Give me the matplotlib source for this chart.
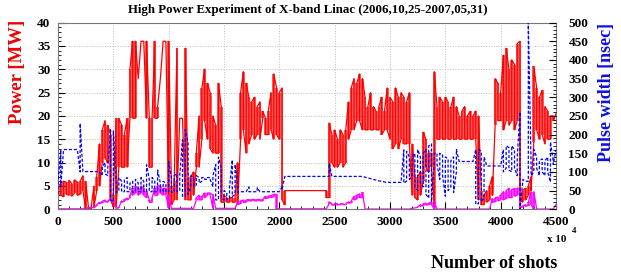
import numpy as np
import matplotlib
matplotlib.use("Agg")
import matplotlib.pyplot as plt
from matplotlib.ticker import MultipleLocator

plt.rcParams['font.family'] = ['Liberation Serif', 'DejaVu Serif']
plt.rcParams['font.weight'] = 'bold'

# number of shots (x 10^4), one sample every 25
shots = np.arange(0, 4501, 25)

# power [MW], lower and upper edge of the trace in each sample
red_lo = [1, 3, 2.7, 3.2, 3, 2.8, 3.5, 3, 3.2, 4,
          0, 0, 0.2, 0.5, 4, 5, 10, 11, 10, 2,
          0.5, 0.5, 9, 9, 9, 9, 19.5, 19.5, 19.5, 28,
          36, 36, 19.5, 9, 9, 19.5, 19.5, 28, 36, 36,
          1, 1, 2, 2, 19.5, 19.5, 2, 2, 2, 3,
          9, 9, 15, 19, 15, 13, 12, 12, 12, 1.5,
          1.5, 1.5, 1.5, 1.5, 1.5, 1.5, 15, 17, 12, 14,
          16, 15, 16, 15, 19.5, 16, 16, 17, 15, 16,
          15, 2, 1, 4, 4, 4, 4, 4, 4, 4,
          4, 4, 4, 4, 4, 4, 4, 2.5, 2.5, 10,
          9, 9, 10, 9, 10, 15, 17, 17, 19, 19,
          17, 17, 17, 17, 17, 17, 17, 16, 17, 17,
          15, 13, 14, 13, 15, 14, 14, 14, 3, 2.5,
          2, 3, 6, 9, 8, 9, 0.5, 15, 15, 15,
          15, 15, 15, 15, 15, 15, 15, 15, 15, 15,
          15, 15, 2, 1, 1, 1.5, 2, 3, 18, 19,
          19, 17, 19, 18, 19, 17, 19, 2, 1.5, 2,
          3, 4, 14.5, 17, 15, 16, 14, 15, 15, 19,
          20.5]
red_hi = [5, 5.5, 6, 5.8, 6.2, 5.5, 6.3, 5.8, 6, 7.2,
          6, 0.4, 0.5, 5, 7, 14, 17, 19, 18, 16,
          3, 19.5, 19.5, 18, 16, 19.5, 30, 36, 36, 28,
          36, 36, 36, 19.5, 19.5, 36, 22, 28, 36, 36,
          36, 5, 6, 34.5, 19.5, 19.5, 34.5, 6, 7, 8,
          12, 20, 26, 30, 27, 25, 20, 18, 27, 22,
          3, 2.5, 2.5, 2.5, 2.5, 10, 25, 29.5, 27, 24,
          23, 24, 22, 23, 21, 19.5, 21, 25, 29, 26,
          25, 26, 4, 4, 4, 4, 4, 4, 4, 4,
          4, 4, 4, 4, 4, 4, 4, 4, 18.5, 16,
          17, 15, 17, 16, 17, 23, 26, 28, 27, 29,
          28, 24, 22, 25, 22, 21, 22, 24, 21, 26,
          24, 23, 26, 24, 25, 24, 23, 25, 14, 7,
          7, 8, 16.5, 15, 12, 12, 29.5, 22, 24, 23,
          24, 23, 22, 24, 22, 20, 21, 22, 20, 21,
          20, 21, 20, 4, 3, 4, 5, 7, 28, 27,
          25, 33, 34.5, 30, 32, 31, 35.5, 36, 4, 4.5,
          5, 7, 30.6, 26, 24, 25.5, 22, 21, 20, 20,
          20.5]

# second power trace [MW]
mag_lo = [0.1] * 10 + \
         [0.2, 0.3, 0.3, 0.3, 0.8, 1.2, 1.4, 1.6, 1.5, 1.8,
          1.8, 0.2, 0.3, 1.5, 1.7, 2.0, 2.5, 3.0, 3.5, 3.0,
          3.5, 3.0, 2.5, 1.5, 1.5, 3.0, 3.0, 3.5, 3.0, 3.0] + \
         [0.2] * 10 + \
         [2.0, 2.0, 2.0, 2.5, 3.0, 3.0, 0.2, 0.2, 0.2, 0.2,
          0.2, 0.2, 0.2, 0.2, 0.2, 1.0, 1.2, 1.5, 1.5, 1.8,
          1.8, 1.8, 1.8, 1.8, 1.8, 2.3, 2.4, 2.5, 2.7, 0.1] + \
         [0.1] * 10 + \
         [0.1, 0.1, 0.1, 0.1, 0.1, 0.1, 0.1, 0.1, 1.2, 0.9,
          0.9, 0.9, 1.0, 1.0, 1.0, 1.3, 1.4, 2.0, 2.2, 2.5,
          2.5, 0.05, 0.05, 0.05, 0.05, 0.05, 0.05, 0.05, 0.05, 0.05,
          0.05, 0.05, 0.05, 0.05, 0.05, 0.05, 0.05, 0.05, 0.2, 0.3,
          0.4, 0.6, 0.8, 0.9, 1.0, 1.0, 0.05, 0.05, 0.05, 0.05] + \
         [0.05] * 10 + \
         [0.05, 0.05, 0.05, 0.05, 0.05, 0.05, 0.05, 1.5, 1.6, 1.8,
          2.0, 2.0, 2.3, 2.5, 2.5, 2.8, 3.0, 0.3, 0.5, 0.6,
          0.8, 1.0, 0.05, 0.05, 0.05, 0.05, 0.05, 0.05, 0.05, 0.05,
          1.0]
mag_hi = [0.1] * 10 + \
         [0.2, 0.3, 0.3, 0.4, 1.0, 1.5, 1.7, 2.0, 1.8, 2.2,
          2.0, 0.2, 0.4, 1.8, 2.1, 2.4, 3.0, 4.5, 5.0, 4.5,
          5.0, 4.5, 4.0, 2.0, 2.5, 4.5, 5.0, 5.0, 4.5, 4.5] + \
         [3.0, 0.2, 0.2, 0.2, 0.2, 0.2, 0.2, 0.2, 0.2, 0.2] + \
         [2.5, 3.0, 2.8, 3.5, 3.5, 3.5, 3.2, 0.2, 0.2, 0.2,
          0.2, 0.2, 0.2, 0.2, 0.2, 1.5, 1.8, 2.0, 2.0, 2.1,
          2.1, 2.1, 2.1, 2.1, 2.1, 2.8, 2.8, 3.0, 3.2, 3.2] + \
         [0.1] * 10 + \
         [0.1, 0.1, 0.1, 0.1, 0.1, 0.1, 0.1, 0.1, 1.6, 1.2,
          1.2, 1.2, 1.2, 1.2, 1.2, 1.6, 1.8, 2.8, 3.0, 3.3,
          3.6, 0.05, 0.05, 0.05, 0.05, 0.05, 0.05, 0.05, 0.05, 0.05,
          0.05, 0.05, 0.05, 0.05, 0.05, 0.05, 0.05, 0.05, 0.2, 0.3,
          0.5, 1.0, 1.2, 1.3, 1.3, 1.6, 1.6, 0.05, 0.05, 0.05] + \
         [0.05] * 10 + \
         [0.05, 0.05, 0.05, 0.05, 0.05, 0.05, 0.05, 2.3, 2.5, 2.6,
          3.0, 3.8, 4.0, 4.5, 4.2, 4.5, 4.5, 4.5, 0.8, 1.0,
          1.5, 3.8, 3.8, 0.05, 0.05, 0.05, 0.05, 0.05, 0.05, 0.05,
          1.0]

# pulse width [nsec]
blue_lo = [40, 60, 160, 160, 160, 160, 160, 160, 100, 101,
           101, 101, 101, 101, 101, 101, 90, 95, 90, 25,
           20, 45, 50, 47, 47, 47, 47, 45, 47, 47,
           47, 47, 47, 47, 47, 47, 47, 47, 47, 47,
           47, 45, 47, 47, 50, 35, 34, 40, 60, 62,
           65, 70, 75, 80, 80, 80, 60, 25, 25, 30,
           25, 25, 30, 34, 40, 45, 47, 47, 47, 47,
           47, 47, 47, 47, 47, 47, 47, 47, 47, 47,
           47, 55, 88, 88, 88, 88, 88, 88, 88, 88,
           88, 88, 88, 88, 88, 88, 88, 88, 88, 88,
           88, 88, 88, 88, 88, 88, 88, 88, 88, 88,
           88, 86, 84, 82, 80, 78, 76, 75, 73, 72,
           72, 72, 72, 72, 72, 70, 75, 80, 88, 60,
           50, 70, 60, 40, 30, 20, 130, 120, 80, 90,
           35, 50, 60, 45, 100, 128, 128, 128, 128, 128,
           128, 13, 15, 20, 30, 116, 116, 116, 116, 116,
           116, 100, 110, 105, 100, 110, 90, 0, 75, 75,
           75, 90, 100, 110, 90, 100, 90, 100, 73, 120,
           159]
blue_hi = [70, 160, 160, 160, 160, 160, 160, 160, 230, 101,
           101, 101, 101, 101, 101, 101, 115, 125, 110, 215,
           210, 90, 85, 75, 80, 85, 70, 75, 80, 70,
           85, 75, 119, 80, 85, 75, 105, 70, 75, 70,
           128, 85, 90, 95, 90, 186, 213, 180, 90, 85,
           90, 85, 85, 85, 85, 85, 90, 120, 140, 110,
           50, 45, 60, 132, 120, 70, 47, 47, 47, 60,
           47, 47, 58, 47, 47, 47, 47, 47, 47, 47,
           47, 60, 88, 88, 88, 88, 88, 88, 88, 88,
           88, 88, 88, 88, 88, 88, 88, 88, 123, 88,
           88, 88, 88, 88, 88, 88, 88, 88, 88, 88,
           88, 86, 84, 82, 80, 78, 76, 75, 73, 72,
           72, 72, 72, 72, 72, 159, 155, 140, 140, 150,
           160, 140, 150, 160, 170, 175, 150, 150, 150, 145,
           140, 135, 130, 140, 160, 128, 128, 128, 128, 128,
           128, 160, 160, 155, 140, 116, 116, 116, 116, 116,
           116, 160, 170, 165, 170, 160, 140, 260, 80, 75,
           500, 120, 160, 140, 130, 135, 130, 140, 180, 130,
           159]

xticks = [0, 500, 1000, 1500, 2000, 2500, 3000, 3500, 4000, 4500]


def zigzag(x, lo, hi):
    # one vertical stroke per sample, alternating direction
    xs, ys = [], []
    for i in range(len(x)):
        xs += [x[i], x[i]]
        if i % 2 == 0:
            ys += [lo[i], hi[i]]
        else:
            ys += [hi[i], lo[i]]
    return xs, ys


fig = plt.figure(figsize=(6.21, 2.75), dpi=100)
ax = fig.add_axes([0.0934, 0.239, 0.8019, 0.679])

ax.fill_between(shots, red_lo, red_hi, step='mid', color='#ff0000',
                alpha=0.65, lw=0)
rx, ry = zigzag(shots, red_lo, red_hi)
ax.plot(rx, ry, color='#ff0000', lw=0.9)
ax.fill_between(shots, mag_lo, mag_hi, step='mid', color='#ff00ff',
                alpha=0.7, lw=0)
mx, my = zigzag(shots, mag_lo, mag_hi)
ax.plot(mx, my, color='#ff00ff', lw=0.9)

ax.set_xlim(0, 4500)
ax.set_ylim(0, 40)
ax.set_xticks(xticks)
ax.xaxis.set_minor_locator(MultipleLocator(100))
ax.yaxis.set_major_locator(MultipleLocator(5))
ax.yaxis.set_minor_locator(MultipleLocator(1))
ax.tick_params(which='both', direction='in', top=False, right=False,
               labelsize=9.5)
ax.tick_params(axis='y', pad=5.5)
ax.tick_params(axis='x', pad=5)
ax.tick_params(which='major', length=5)
ax.tick_params(which='minor', length=2.5)
ax.grid(True, which='major', linestyle=':', color='#bbbbbb', lw=0.7)
ax.set_axisbelow(True)
for s in ax.spines.values():
    s.set_color('#777777')
    s.set_linewidth(0.8)

ax2 = ax.twinx()
bx, by = zigzag(shots, blue_lo, blue_hi)
ax2.plot(bx, by, color='#0000ff', lw=0.9, linestyle=(0, (2.5, 1.5)))
ax2.set_ylim(0, 500)
ax2.yaxis.set_major_locator(MultipleLocator(50))
ax2.yaxis.set_minor_locator(MultipleLocator(10))
ax2.tick_params(which='both', direction='in', labelsize=9.5, pad=9,
                colors='black')
ax2.tick_params(which='major', length=5)
ax2.tick_params(which='minor', length=2.5)
for s in ax2.spines.values():
    s.set_visible(False)

fig.text(0.495, 0.964, 'High Power Experiment of X-band Linac (2006,10,25-2007,05,31)',
         ha='center', va='center', fontsize=9.3, weight='bold')
fig.text(18 / 621, 1 - 71.5 / 275, 'Power [MW]', rotation=90, ha='center',
         va='center', fontsize=13.5, color='#ee0000', weight='bold')
fig.text(607 / 621, 1 - 92.5 / 275, 'Pulse width [nsec]', rotation=90,
         ha='center', va='center', fontsize=13, color='#1010e0', weight='bold')
fig.text(557 / 621, 1 - 263 / 275, 'Number of shots', ha='right', va='center',
         fontsize=13, weight='bold')
fig.text(557 / 621, 1 - 239 / 275, 'x 10', ha='center', va='center',
         fontsize=8, weight='bold')
fig.text(574 / 621, 1 - 231 / 275, '4', ha='center', va='center',
         fontsize=6.5, weight='bold')

fig.savefig('out.png', dpi=100)
